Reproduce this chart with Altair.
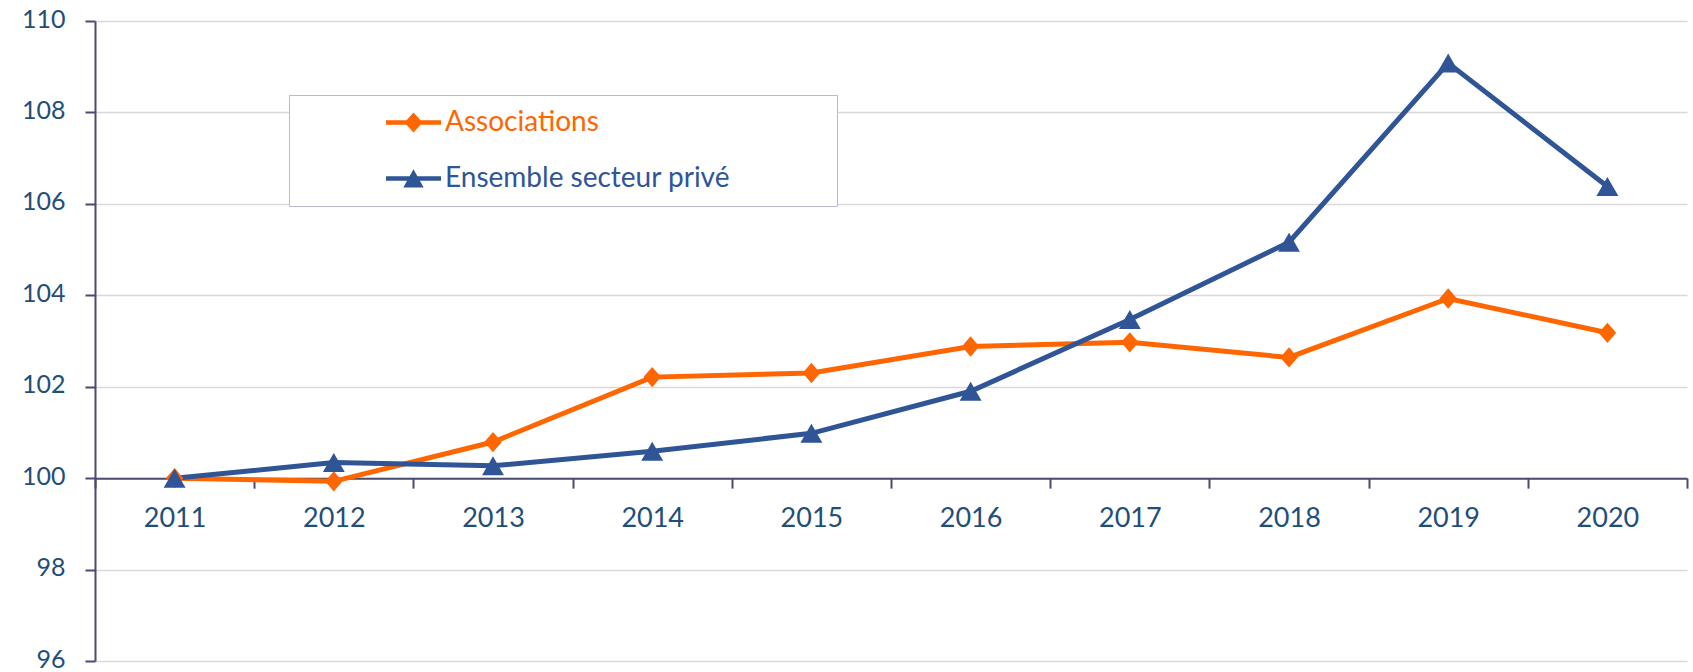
import altair as alt
import pandas as pd

years = ["2011", "2012", "2013", "2014", "2015", "2016", "2017", "2018", "2019", "2020"]
series_names = ["Associations", "Ensemble secteur privé"]
associations = [100.0, 99.93, 100.79, 102.21, 102.3, 102.88, 102.97, 102.64, 103.93, 103.18]
prive = [100.0, 100.34, 100.27, 100.59, 100.98, 101.9, 103.47, 105.16, 109.08, 106.38]
y_ticks = [96, 98, 100, 102, 104, 106, 108, 110]

ORANGE = "#FF6600"
BLUE = "#2F5597"
AXIS = "#4B4B70"
TEXT = "#1F4E79"
FONT = "Lato"

rows = []
for name, vals in zip(series_names, [associations, prive]):
    for yr, v in zip(years, vals):
        rows.append({"year": yr, "series": name, "value": v})
df = pd.DataFrame(rows)

W, H = 1592, 640
y_min, y_max = 96, 110
axis_offset = -H * (100 - y_min) / (y_max - y_min)

x_enc = alt.X(
    "year:O",
    bandPosition=0.5,
    scale=alt.Scale(type="band", paddingInner=0, paddingOuter=0),
    axis=alt.Axis(
        title=None, labelAngle=0, offset=axis_offset, tickBand="extent",
        tickSize=10, tickWidth=2, tickColor=AXIS, domainColor=AXIS, domainWidth=2,
        labelFont=FONT, labelFontSize=27, labelColor=TEXT, labelPadding=17,
        grid=False,
    ),
)
y_enc = alt.Y(
    "value:Q",
    scale=alt.Scale(domain=[y_min, y_max], nice=False, zero=False),
    axis=alt.Axis(
        title=None, values=y_ticks, tickSize=10, tickWidth=2, tickColor=AXIS,
        domainColor=AXIS, domainWidth=2, labelFont=FONT, labelFontSize=25,
        labelColor=TEXT, labelPadding=20, labelOffset=-2, grid=True,
        gridColor="#D9D9D9", gridWidth=1.6,
    ),
)

color_scale = alt.Scale(domain=series_names, range=[ORANGE, BLUE])

base = alt.Chart(df)

# legend glyphs: line segment + marker; the zero-area tail segment only
# stretches the legend frame to the reference's size
leg_diamond = ("M-1,-0.08 L1,-0.08 L1,0.08 L-1,0.08 Z "
               "M0,-0.36 L0.33,0 L0,0.36 L-0.33,0 Z "
               "M15.4,0 L15.4,0.001 Z")
leg_triangle = ("M-1,-0.08 L1,-0.08 L1,0.08 L-1,0.08 Z "
                "M0,-0.34 L0.37,0.33 L-0.37,0.33 Z "
                "M15.4,0.98 L15.4,0.981 Z")

label_color_expr = f"datum.value === '{series_names[0]}' ? '{ORANGE}' : '{BLUE}'"

legend_layer = base.mark_point(filled=True, size=1, opacity=1).encode(
    x=x_enc, y=y_enc,
    color=alt.Color("series:N", scale=color_scale, title=None,
                    legend=alt.Legend(
                        orient="none", legendX=194, legendY=74,
                        padding=0, rowPadding=14, symbolOffset=97,
                        symbolSize=3025, symbolStrokeWidth=0, symbolOpacity=1,
                        labelOffset=4, labelFont=FONT, labelFontSize=28,
                        labelLimit=800, labelColor={"expr": label_color_expr},
                        strokeColor="#B8B8D0", fillColor="white",
                    )),
    shape=alt.Shape("series:N", scale=alt.Scale(domain=series_names, range=[leg_diamond, leg_triangle]),
                    title=None),
)

lines = base.mark_line(strokeWidth=5).encode(
    x=x_enc, y=y_enc,
    color=alt.Color("series:N", scale=color_scale, legend=None),
)

pts_a = base.transform_filter(alt.datum.series == series_names[0]).mark_point(
    shape="M0,-1.1 L0.95,0 L0,1.1 L-0.95,0 Z", filled=True, size=340, opacity=1, color=ORANGE
).encode(x=x_enc, y=y_enc)

pts_b = base.transform_filter(alt.datum.series == series_names[1]).mark_point(
    shape="triangle-up", filled=True, size=480, opacity=1, color=BLUE
).encode(x=x_enc, y=y_enc)

chart = alt.layer(legend_layer, lines, pts_a, pts_b).properties(
    width=W, height=H,
    autosize=alt.AutoSizeParams(type="none"),
    padding={"left": 95, "top": 21, "right": 6, "bottom": 11},
    background="white",
).configure_view(stroke=None)

chart.save("out.html", embed_options={"renderer": "svg", "actions": False})
